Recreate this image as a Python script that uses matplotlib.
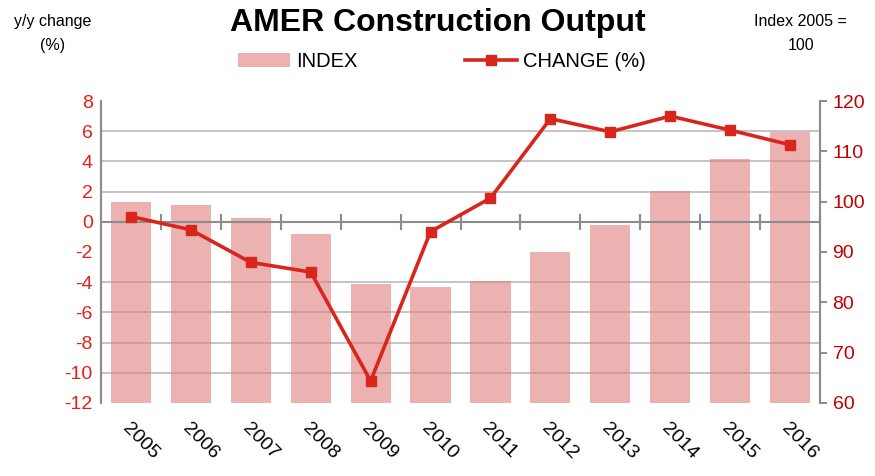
import numpy as np
import matplotlib.pyplot as plt

plt.rcParams['font.family'] = ['Liberation Sans', 'DejaVu Sans']
plt.rcParams['axes.unicode_minus'] = False

years = ['2005', '2006', '2007', '2008', '2009', '2010',
         '2011', '2012', '2013', '2014', '2015', '2016']
index_vals = [99.9, 99.4, 96.7, 93.5, 83.7, 83.0, 84.3, 90.0, 95.4, 102.2, 108.4, 113.9]
change_vals = [0.35, -0.53, -2.69, -3.33, -10.54, -0.65, 1.57, 6.83, 5.96, 7.0, 6.07, 5.1]

red = '#d9261c'
grey = '#8c8c8c'

fig = plt.figure(figsize=(8.75, 4.76), dpi=100)
ax = fig.add_axes([0.1154, 0.1534, 0.8218, 0.6344])
ax2 = ax.twinx()

x = np.arange(len(years))

# index bars on the right scale, drawn behind the change line
ax2.bar(x, np.array(index_vals) - 60, bottom=60, width=0.67,
        color='#e08080', alpha=0.6, zorder=2, label='INDEX')
ax2.set_ylim(60, 120)
ax2.set_yticks(np.arange(60, 121, 10))
# gridlines follow the left axis steps (every 2 %), kept under the bars
ax2.set_yticks(np.arange(60, 121, 6), minor=True)
ax2.grid(axis='y', which='minor', color='#c4c4c4', lw=1.4, zorder=0)
ax2.set_axisbelow(True)

ax.set_zorder(ax2.get_zorder() + 1)
ax.patch.set_visible(False)

# zero line with category ticks
ax.axhline(0, color=grey, lw=1.5, zorder=3)
ax.plot(x + 0.5, np.zeros(len(x)), ls='none', marker='|',
        ms=11, mew=1.5, color=grey, zorder=3, clip_on=False)

line, = ax.plot(x, change_vals, color=red, lw=2.6, marker='s', ms=7,
                zorder=5, label='CHANGE (%)')
ax.set_ylim(-12, 8)
ax.set_yticks(np.arange(-12, 9, 2))
ax.set_xlim(-0.5, len(years) - 0.5)
ax.set_xticks(x)
ax.set_xticklabels(years, rotation=-45, ha='left', va='top',
                   rotation_mode='anchor', fontsize=14)
ax.tick_params(axis='x', length=0, pad=12)
ax.tick_params(axis='y', length=0, labelsize=14, labelcolor='#e32119', pad=6)
ax2.tick_params(axis='y', which='major', length=5, width=1.4, color=grey,
                labelsize=14, labelcolor='#c00000', pad=4)
ax2.tick_params(axis='y', which='minor', length=0)

for a in (ax, ax2):
    a.spines['top'].set_visible(False)
    a.spines['bottom'].set_visible(False)
    a.spines['left'].set_color(grey)
    a.spines['right'].set_color(grey)
    a.spines['left'].set_linewidth(1.5)
    a.spines['right'].set_linewidth(1.5)

fig.text(0.5, 0.952, 'AMER Construction Output', ha='center', va='center',
         fontsize=23, fontweight='bold')
fig.text(0.06, 0.93, 'y/y change\n(%)', ha='center', va='center',
         fontsize=11.5, linespacing=1.75)
fig.text(0.915, 0.93, 'Index 2005 =\n100', ha='center', va='center',
         fontsize=11.5, linespacing=1.75)

handles = [ax2.patches[0], line]
fig.legend(handles, ['INDEX', 'CHANGE (%)'], loc='center',
           bbox_to_anchor=(0.505, 0.87), ncol=2, frameon=False, fontsize=14.5,
           handlelength=2.6, handletextpad=0.3, columnspacing=5.3)

fig.savefig('out.png', dpi=100)
